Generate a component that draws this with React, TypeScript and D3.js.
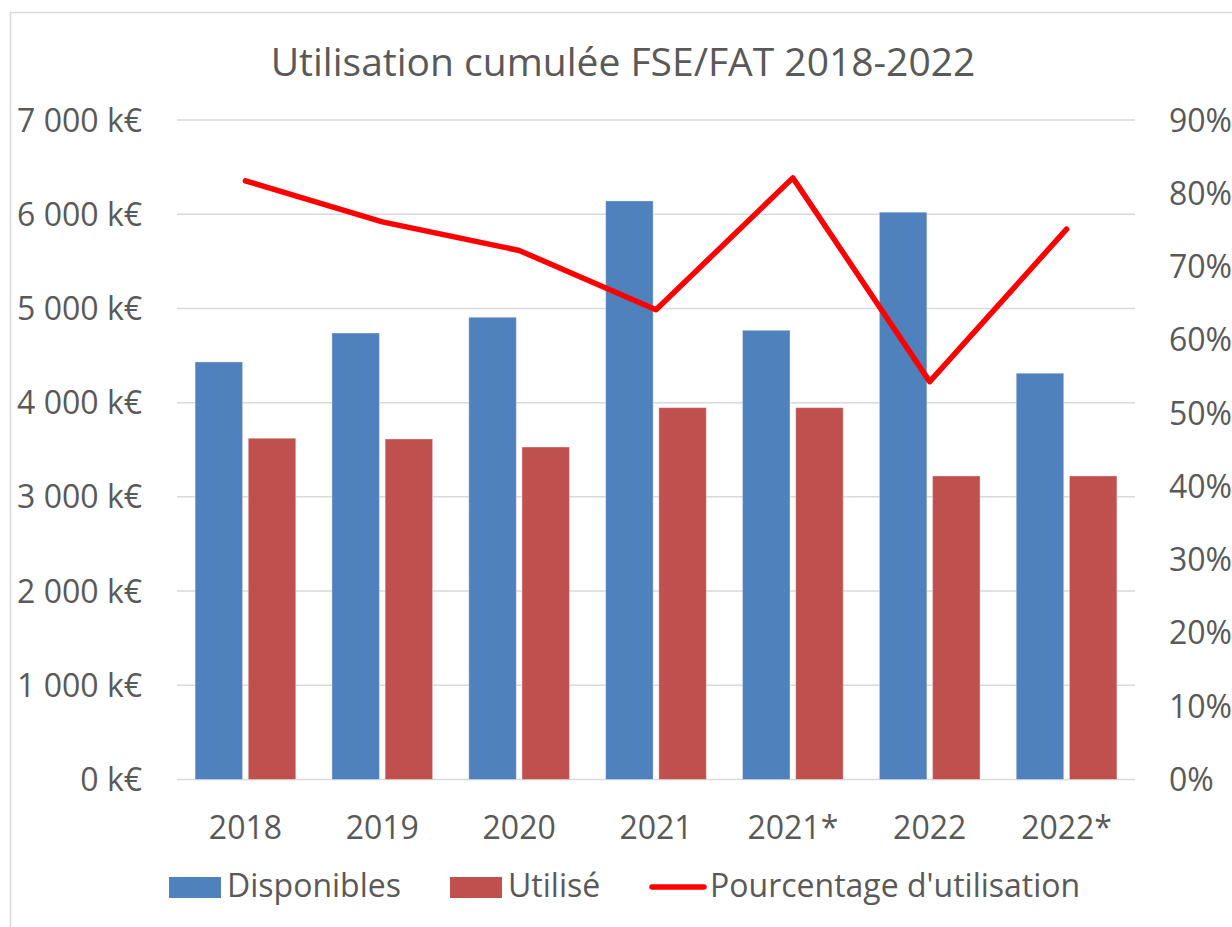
import React from "react";
import * as d3 from "d3";

const categories = ["2018", "2019", "2020", "2021", "2021*", "2022", "2022*"];
const disponibles = [4432, 4739, 4906, 6141, 4768, 6021, 4312];
const utilise = [3622, 3614, 3529, 3947, 3947, 3222, 3222];
const pourcentage = [0.817, 0.761, 0.722, 0.641, 0.821, 0.543, 0.751];
const leftTicks = [0, 1000, 2000, 3000, 4000, 5000, 6000, 7000];
const rightTicks = [0, 0.1, 0.2, 0.3, 0.4, 0.5, 0.6, 0.7, 0.8, 0.9];
const seriesNames = ["Disponibles", "Utilisé"];

const W = 1232;
const H = 927;
const FONT = "'Open Sans', 'Noto Sans', sans-serif";
const TEXT = "#595959";
const BLUE = "#4F81BD";
const RED = "#C0504D";
const LINE = "#FF0000";
const GRID = "#D9D9D9";

export default function App() {
  const x0 = 177, x1 = 1135, yTop = 120, yBot = 779.5;
  const x = d3.scaleBand<string>().domain(categories).range([x0, x1]).paddingInner(0.2645).paddingOuter(0.13225);
  const xs = d3.scaleBand<string>().domain(seriesNames).range([0, x.bandwidth()]).paddingInner(0.107);
  const yL = d3.scaleLinear().domain([0, 7000]).range([yBot, yTop]);
  const yR = d3.scaleLinear().domain([0, 0.9]).range([yBot, yTop]);
  const fmtL = (v: number) => d3.format(",")(v).replace(/,/g, " ") + " k€";
  const fmtR = (v: number) => Math.round(v * 100) + "%";
  const line = d3.line<number>()
    .x((_, i) => (x(categories[i]) as number) + x.bandwidth() / 2)
    .y((d) => yR(d));
  const series = [disponibles, utilise];
  const colors = [BLUE, RED];

  return (
    <svg width={W} height={H} style={{ position: "absolute", left: 0, top: 0, background: "#fff" }}>
      <rect x={10.5} y={12.5} width={W} height={H} fill="#fff" stroke={GRID} strokeWidth={1.5} />
      <text x={623} y={76} textAnchor="middle" fontFamily={FONT} fontSize={39} fill={TEXT}>
        Utilisation cumulée FSE/FAT 2018-2022
      </text>
      {leftTicks.map((t) => (
        <line key={"g" + t} x1={x0} x2={x1} y1={yL(t)} y2={yL(t)} stroke={GRID} strokeWidth={1.5} />
      ))}
      {leftTicks.map((t) => (
        <text key={"l" + t} x={142} y={yL(t)} dy="0.36em" textAnchor="end" fontFamily={FONT} fontSize={32} fill={TEXT}>
          {fmtL(t)}
        </text>
      ))}
      {rightTicks.map((t) => (
        <text key={"r" + t} x={1169} y={yR(t)} dy="0.36em" textAnchor="start" fontFamily={FONT} fontSize={32} fill={TEXT}>
          {fmtR(t)}
        </text>
      ))}
      {series.map((vals, si) =>
        vals.map((v, i) => (
          <rect
            key={si + "-" + i}
            x={(x(categories[i]) as number) + (xs(seriesNames[si]) as number)}
            y={yL(v)}
            width={xs.bandwidth()}
            height={yBot - yL(v)}
            fill={colors[si]}
            stroke="rgba(255,255,255,0.35)"
            strokeWidth={1}
          />
        ))
      )}
      <path d={line(pourcentage) || ""} fill="none" stroke={LINE} strokeWidth={5.5} strokeLinejoin="round" strokeLinecap="round" />
      {categories.map((c) => (
        <text key={"c" + c} x={(x(c) as number) + x.bandwidth() / 2} y={839} textAnchor="middle" fontFamily={FONT} fontSize={32} fill={TEXT}>
          {c}
        </text>
      ))}
      <rect x={169} y={877} width={52} height={21} fill={BLUE} />
      <text x={227} y={897} fontFamily={FONT} fontSize={32} fill={TEXT}>Disponibles</text>
      <rect x={450} y={877} width={52} height={21} fill={RED} />
      <text x={508} y={897} fontFamily={FONT} fontSize={32} fill={TEXT}>Utilisé</text>
      <line x1={652} x2={704} y1={887} y2={887} stroke={LINE} strokeWidth={5.5} strokeLinecap="round" />
      <text x={710} y={897} fontFamily={FONT} fontSize={32} fill={TEXT}>Pourcentage d'utilisation</text>
    </svg>
  );
}
